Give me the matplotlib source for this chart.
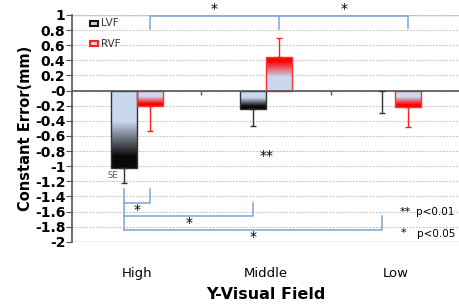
import numpy as np
import matplotlib.pyplot as plt
from matplotlib.colors import LinearSegmentedColormap
from matplotlib.patches import Rectangle

fields = ["High", "Middle", "Low"]
lvf = [-1.02, -0.24, 0.0]
rvf = [-0.20, 0.45, -0.22]
lvf_se = [0.20, 0.23, 0.29]
rvf_se = [0.34, 0.25, 0.26]

LIGHT = "#c9d8f0"
BRACKET = "#7aa4d6"

fig = plt.figure(figsize=(4.6, 3.05), dpi=100)
ax = fig.add_axes([0.157, 0.207, 0.843, 0.744])

x = np.arange(len(fields))
w = 0.2


def grad_bar(xc, v, dark, edge):
    rect = Rectangle((xc - w / 2, 0), w, v, facecolor="none", edgecolor=edge, lw=1.0, zorder=3)
    ax.add_patch(rect)
    cmap = LinearSegmentedColormap.from_list("g", [(0, LIGHT), (0.4, LIGHT), (0.85, dark), (1, dark)])
    g = np.linspace(0, 1, 200).reshape(-1, 1)
    if v >= 0:
        g = g[::-1]
    im = ax.imshow(g, cmap=cmap, aspect="auto", origin="upper",
                   extent=[xc - w / 2, xc + w / 2, min(0, v), max(0, v)], zorder=2)
    im.set_clip_path(rect)


for i in range(len(fields)):
    if lvf[i] != 0:
        grad_bar(x[i] - w / 2, lvf[i], "#0a0a0a", "#333333")
    grad_bar(x[i] + w / 2, rvf[i], "#ff0000", "#ff3030")
    # one-sided error bars
    for xc, v, se, c in [(x[i] - w / 2, lvf[i], lvf_se[i], "#333333"),
                         (x[i] + w / 2, rvf[i], rvf_se[i], "#ff2020")]:
        s = 1 if v > 0 else -1
        ax.errorbar(xc, v, yerr=[[se], [0]] if s < 0 else [[0], [se]], fmt="none",
                    ecolor=c, elinewidth=1.0, capsize=2, capthick=1.0, zorder=4)

ax.set_xlim(-0.5, 2.5)
ax.set_ylim(-2, 1)
ax.set_yticks(np.arange(-2, 1.01, 0.2))
ax.set_yticklabels([f"{t:g}" for t in np.round(np.arange(-2, 1.01, 0.2), 1)],
                   fontweight="bold", fontsize=10)
ax.grid(axis="y", color="#cccccc", ls=(0, (2, 1)), lw=0.8, zorder=0)
ax.axhline(0, color="#555555", lw=1.2, zorder=3)
ax.axhline(1, color="#bbbbbb", lw=1.0, zorder=1)
ax.axhline(-2, color="#bbbbbb", lw=1.0, zorder=1)
ax.vlines([0.5, 1.5], -0.06, 0, color="#555555", lw=1.0, zorder=3)

for sp in ["top", "right", "bottom"]:
    ax.spines[sp].set_visible(False)
ax.spines["left"].set_color("#555555")
ax.spines["left"].set_linewidth(1.2)
ax.tick_params(axis="y", length=4, color="#555555", pad=1)

ax.set_xticks(x)
ax.set_xticklabels(fields, fontsize=9.5)
ax.tick_params(axis="x", length=0, pad=18)
ax.set_xlabel("Y-Visual Field", fontweight="bold", fontsize=11.5, labelpad=5)
ax.set_ylabel("Constant Error(mm)", fontweight="bold", fontsize=10.5, labelpad=1)

# legend
ax.add_patch(Rectangle((-0.36, 0.86), 0.06, 0.06, facecolor=LIGHT, edgecolor="#111111", lw=1.5, zorder=5))
ax.text(-0.28, 0.89, "LVF", fontsize=7.5, va="center", color="#333333")
ax.add_patch(Rectangle((-0.36, 0.59), 0.06, 0.06, facecolor=LIGHT, edgecolor="#ff2020", lw=1.5, zorder=5))
ax.text(-0.28, 0.62, "RVF", fontsize=7.5, va="center", color="#333333")

# significance brackets (RVF across fields)
r = x + w / 2
l = x - w / 2
kw = dict(color=BRACKET, lw=1.1, zorder=4, clip_on=False)
ax.plot([r[0], r[0], r[2], r[2]], [0.82, 0.98, 0.98, 0.83], **kw)
ax.plot([r[1], r[1]], [0.98, 0.82], **kw)
ax.text((r[0] + r[1]) / 2, 1.08, "*", ha="center", va="center", fontsize=10)
ax.text((r[1] + r[2]) / 2, 1.08, "*", ha="center", va="center", fontsize=10)

# LVF comparisons
ax.plot([l[0], l[0]], [-1.30, -1.84], **kw)
ax.plot([l[0], r[0], r[0]], [-1.48, -1.48, -1.30], **kw)
ax.plot([l[0], l[1], l[1]], [-1.66, -1.66, -1.49], **kw)
ax.plot([l[0], l[2], l[2]], [-1.84, -1.84, -1.66], **kw)
ax.text(x[0], -1.58, "*", ha="center", va="center", fontsize=10)
ax.text((l[0] + l[1]) / 2, -1.75, "*", ha="center", va="center", fontsize=10)
ax.text((l[0] + l[2]) / 2, -1.94, "*", ha="center", va="center", fontsize=10)
ax.text(x[1], -0.86, "**", ha="center", va="center", fontsize=10)

ax.text(l[0] - 0.09, -1.12, "SE", ha="center", va="center", fontsize=6, color="#555555")
ax.text(2.03, -1.60, "**", ha="left", va="center", fontsize=8)
ax.text(2.16, -1.61, "p<0.01", ha="left", va="center", fontsize=7.5)
ax.text(2.04, -1.88, "*", ha="left", va="center", fontsize=8)
ax.text(2.17, -1.89, "p<0.05", ha="left", va="center", fontsize=7.5)

fig.savefig("out.png", dpi=100)
